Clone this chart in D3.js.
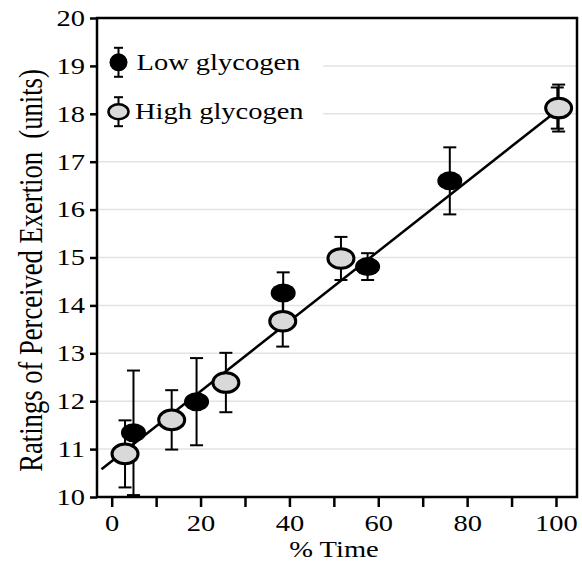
<!DOCTYPE html>
<html><head><meta charset="utf-8">
<script src="https://cdn.jsdelivr.net/npm/d3@7"></script>
<style>body{margin:0;background:#fff}svg{display:block}text{font-family:"Liberation Serif","Times New Roman",serif;fill:#000}</style>
</head><body><div id="c"></div>
<script>
// Data
const lowX = [4.9, 19.1, 38.6, 57.6, 76.1, 100.3];
const lowY = [11.34, 11.99, 14.26, 14.81, 16.60, 18.12];
const lowErr = [1.3, 0.91, 0.43, 0.28, 0.70, 0.43];
const highX = [3.0, 13.5, 25.7, 38.5, 51.6, 100.6];
const highY = [10.90, 11.61, 12.39, 13.67, 14.98, 18.12];
const highErr = [0.70, 0.62, 0.62, 0.53, 0.45, 0.49];
const fitX = [-2.3, 100];
const fitY = [10.58, 18.05];
const xTicks = [0, 10, 20, 30, 40, 50, 60, 70, 80, 90, 100];
const xLabels = [0, 20, 40, 60, 80, 100];
const yTicks = [10, 11, 12, 13, 14, 15, 16, 17, 18, 19, 20];
const seriesNames = ["Low glycogen", "High glycogen"];
const xTitle = "% Time";
const yTitle = "Ratings of Perceived Exertion\u00a0\u00a0(units)";

const W = 582, H = 562, S = 1.24;
const m = {l: 97, r: 5, t: 18, b: 65};
const svg = d3.select("#c").append("svg").attr("width", W).attr("height", H);
const x = d3.scaleLinear().domain([-3.31, 104.73]).range([m.l, W - m.r]);
const y = d3.scaleLinear().domain([10, 20]).range([H - m.b, m.t]);

// gridlines
svg.append("g").selectAll("line").data(yTicks.filter(d => d > 10 && d < 20)).join("line")
  .attr("x1", x.range()[0]).attr("x2", x.range()[1])
  .attr("y1", d => y(d)).attr("y2", d => y(d))
  .attr("stroke", "#e3e3e3").attr("stroke-width", 1.5);

// legend background
svg.append("rect").attr("x", m.l + 2).attr("y", 38).attr("width", 224).attr("height", 98).attr("fill", "#fff");

// fit line
svg.append("path").datum(fitX.map((d, i) => [d, fitY[i]]))
  .attr("d", d3.line().x(d => x(d[0])).y(d => y(d[1])))
  .attr("stroke", "#000").attr("stroke-width", 2.5).attr("fill", "none");

function errBars(xs, ys, es) {
  const g = svg.append("g").attr("stroke", "#000").attr("stroke-width", 2);
  xs.forEach((xv, i) => {
    const cx = x(xv), top = y(ys[i] + es[i]), bot = y(Math.max(10, ys[i] - es[i]));
    g.append("line").attr("x1", cx).attr("x2", cx).attr("y1", top).attr("y2", bot);
    g.append("line").attr("x1", cx - 6.5).attr("x2", cx + 6.5).attr("y1", top).attr("y2", top);
    g.append("line").attr("x1", cx - 6.5).attr("x2", cx + 6.5).attr("y1", bot).attr("y2", bot);
  });
}
errBars(lowX, lowY, lowErr);
svg.append("g").selectAll("ellipse").data(lowX).join("ellipse")
  .attr("cx", d => x(d)).attr("cy", (d, i) => y(lowY[i])).attr("rx", 12.5).attr("ry", 9.5).attr("fill", "#000");
errBars(highX, highY, highErr);
svg.append("g").selectAll("ellipse").data(highX).join("ellipse")
  .attr("cx", d => x(d)).attr("cy", (d, i) => y(highY[i])).attr("rx", 13).attr("ry", 9.8)
  .attr("fill", "#d9d9d9").attr("stroke", "#000").attr("stroke-width", 3);

// frame
svg.append("rect").attr("x", m.l).attr("y", m.t).attr("width", W - m.r - m.l).attr("height", H - m.b - m.t)
  .attr("fill", "none").attr("stroke", "#000").attr("stroke-width", 2.5);

// axes
const xa = svg.append("g").attr("transform", `translate(0,${H - m.b})`)
  .call(d3.axisBottom(x).tickValues(xTicks).tickSize(10).tickPadding(7.5)
    .tickFormat(d => xLabels.includes(d) ? d : ""));
xa.select(".domain").remove();
xa.selectAll("line").attr("stroke-width", 2.5);
xa.selectAll("text").attr("font-size", 23).attr("font-family", "Liberation Serif")
  .attr("transform", `scale(${S},1)`);

const ya = svg.append("g").attr("transform", `translate(${m.l},0)`)
  .call(d3.axisLeft(y).tickValues(yTicks).tickSize(7).tickPadding(3));
ya.select(".domain").remove();
ya.selectAll("line").attr("stroke-width", 2.5);
ya.selectAll("text").attr("font-size", 23).attr("font-family", "Liberation Serif")
  .attr("x", -12 / S).attr("transform", `scale(${S},1)`);

// titles
svg.append("text").attr("transform", `translate(334,556.5) scale(${S},1)`)
  .attr("text-anchor", "middle").attr("font-size", 23).text(xTitle);
svg.append("text").attr("transform", `translate(41.5,270.5) scale(${S},1) rotate(-90)`)
  .attr("text-anchor", "middle").attr("font-size", 26.6).text(yTitle);

// legend
const lg = svg.append("g");
const lcx = 118.5;
[[62.3, 0], [111.7, 1]].forEach(([cy, k]) => {
  lg.append("line").attr("x1", lcx).attr("x2", lcx).attr("y1", cy - 14.5).attr("y2", cy + 14.5).attr("stroke", "#000").attr("stroke-width", 2);
  lg.append("line").attr("x1", lcx - 4.5).attr("x2", lcx + 4.5).attr("y1", cy - 14.5).attr("y2", cy - 14.5).attr("stroke", "#000").attr("stroke-width", 2);
  lg.append("line").attr("x1", lcx - 4.5).attr("x2", lcx + 4.5).attr("y1", cy + 14.5).attr("y2", cy + 14.5).attr("stroke", "#000").attr("stroke-width", 2);
  if (k === 0) lg.append("ellipse").attr("cx", lcx).attr("cy", cy).attr("rx", 9).attr("ry", 9).attr("fill", "#000");
  else lg.append("ellipse").attr("cx", lcx).attr("cy", cy).attr("rx", 10).attr("ry", 7.5).attr("fill", "#d9d9d9").attr("stroke", "#000").attr("stroke-width", 2.5);
  lg.append("text").attr("transform", `translate(${k === 0 ? 136.5 : 135},${k === 0 ? 70 : 118.5}) scale(${S},1)`)
    .attr("font-size", 23).text(seriesNames[k]);
});
</script></body></html>
